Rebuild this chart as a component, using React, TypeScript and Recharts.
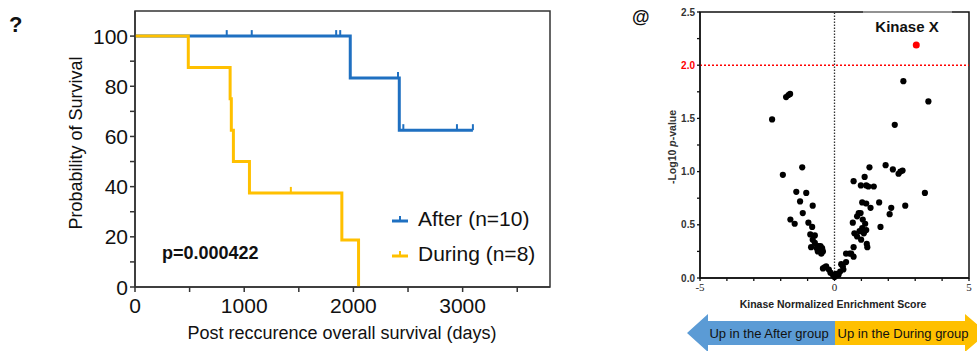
import {
  ComposedChart,
  ScatterChart,
  Line,
  Scatter,
  XAxis,
  YAxis,
  ReferenceLine,
  ReferenceArea,
  Legend,
} from "recharts";

const SANS = "'Liberation Sans', Arial, sans-serif";
const SERIF = "'Liberation Serif', 'Times New Roman', serif";

const afterColor = "#1f70c1";
const duringColor = "#ffc000";

// Kaplan-Meier steps (days, % surviving)
const afterSteps = [
  { days: 0, survival: 100 },
  { days: 1971, survival: 83.3 },
  { days: 2420, survival: 62.5 },
  { days: 3094, survival: 62.5 },
];
const duringSteps = [
  { days: 0, survival: 100 },
  { days: 488, survival: 87.5 },
  { days: 871, survival: 75 },
  { days: 882, survival: 62.5 },
  { days: 901, survival: 50 },
  { days: 1048, survival: 37.5 },
  { days: 1894, survival: 18.75 },
  { days: 2047, survival: 0 },
];
const afterCensored = [
  { days: 840, survival: 100 },
  { days: 1069, survival: 100 },
  { days: 1842, survival: 100 },
  { days: 1879, survival: 100 },
  { days: 2408, survival: 83.3 },
  { days: 2457, survival: 62.5 },
  { days: 2948, survival: 62.5 },
  { days: 3094, survival: 62.5 },
];
const duringCensored = [{ days: 1427, survival: 37.5 }];

const dayDomain: [number, number] = [0, 3800];
const survivalDomain: [number, number] = [0, 110];
const dayTicks = [0, 500, 1000, 1500, 2000, 2500, 3000, 3500];
const dayLabels = [0, 1000, 2000, 3000];
const survivalTicks = [0, 10, 20, 30, 40, 50, 60, 70, 80, 90, 100];
const survivalLabels = [0, 20, 40, 60, 80, 100];

const legendItems = [
  { name: "After (n=10)", color: afterColor },
  { name: "During (n=8)", color: duringColor },
];

// volcano: [normalized enrichment score, -log10 p]
const kinasePoints: [number, number][] = [
  [-2.32, 1.49], [-1.8, 1.7], [-1.71, 1.72], [-1.65, 1.73],
  [-1.92, 0.97], [-1.2, 1.04], [-1.42, 0.81], [-1.05, 0.8],
  [-1.28, 0.72], [-0.81, 0.68], [-1.18, 0.61], [-1.64, 0.55],
  [-1.48, 0.51], [-0.97, 0.52], [-0.83, 0.48], [-0.9, 0.41],
  [-0.73, 0.4], [-0.81, 0.36], [-0.73, 0.33], [-0.87, 0.29],
  [-0.66, 0.28], [-0.56, 0.26], [-0.46, 0.28], [-0.49, 0.23],
  [-0.62, 0.25], [-0.43, 0.25], [-0.6, 0.3], [-0.52, 0.3],
  [-0.43, 0.09], [-0.31, 0.11], [-0.21, 0.08], [-0.37, 0.1],
  [-0.15, 0.05], [-0.06, 0.03], [0, 0.01], [0.05, 0.02],
  [2.56, 1.85], [3.49, 1.66], [2.24, 1.44], [1.9, 1.06],
  [1.3, 1.04], [2.17, 1.02], [2.38, 0.98], [2.45, 1.0],
  [2.53, 1.01], [0.71, 0.91], [1.12, 0.95], [0.98, 0.87],
  [1.18, 0.87], [1.26, 0.86], [1.46, 0.86], [3.36, 0.8],
  [1.03, 0.71], [1.18, 0.7], [1.34, 0.66], [1.66, 0.71],
  [2.11, 0.66], [2.05, 0.6], [2.63, 0.68], [1.71, 0.48],
  [0.9, 0.61], [0.97, 0.61], [0.84, 0.58], [0.68, 0.52],
  [1.05, 0.55], [1.14, 0.51], [1.03, 0.47], [1.18, 0.45],
  [1.09, 0.42], [0.93, 0.44], [0.74, 0.42], [0.84, 0.39],
  [0.99, 0.36], [1.2, 0.32], [1.22, 0.29], [0.71, 0.29],
  [0.62, 0.23], [0.43, 0.23], [0.71, 0.2], [0.56, 0.23],
  [0.43, 0.15], [0.31, 0.11], [0.25, 0.13], [0.33, 0.08],
  [0.21, 0.06], [0.06, 0.04], [0.15, 0.03],
];
const highlightPoints: [number, number][] = [[3.04, 2.19]];
const scoreDomain: [number, number] = [-5, 5];
const logPDomain: [number, number] = [0, 2.5];
const scoreTicks = [-5, -4, -3, -2, -1, 0, 1, 2, 3, 4, 5];
const scoreLabels = [-5, 0, 5];
const logPTicks = [0, 0.25, 0.5, 0.75, 1, 1.25, 1.5, 1.75, 2, 2.25, 2.5];
const logPThreshold = 2;

const kinaseData = kinasePoints.map(([score, logP]) => ({ score, logP }));
const highlightData = highlightPoints.map(([score, logP]) => ({ score, logP }));

function censorShape(color: string) {
  return (props: any) => (
    <line
      x1={props.cx}
      x2={props.cx}
      y1={props.cy}
      y2={props.cy - 6}
      stroke={color}
      strokeWidth={2}
    />
  );
}

function dotShape(color: string, r: number) {
  return (props: any) => <circle cx={props.cx} cy={props.cy} r={r} fill={color} />;
}

const DayTick = (props: any) => {
  const { x, y, payload } = props;
  if (!dayLabels.includes(payload.value)) return null;
  return (
    <text x={x} y={y + 19} textAnchor="middle" fontSize={21} fontFamily={SANS} fill="#111">
      {payload.value}
    </text>
  );
};

const SurvivalTick = (props: any) => {
  const { x, y, payload } = props;
  if (!survivalLabels.includes(payload.value)) return null;
  return (
    <text x={x} y={y + 7.5} textAnchor="end" fontSize={21} fontFamily={SANS} fill="#111">
      {payload.value}
    </text>
  );
};

const ScoreTick = (props: any) => {
  const { x, y, payload } = props;
  if (!scoreLabels.includes(payload.value)) return null;
  return (
    <text x={x} y={y + 8} textAnchor="middle" fontSize={11} fontFamily={SERIF} fill="#222">
      {payload.value}
    </text>
  );
};

const LogPTick = (props: any) => {
  const { x, y, payload } = props;
  const v = payload.value as number;
  if (Math.abs(v * 2 - Math.round(v * 2)) > 1e-6) return null;
  return (
    <text
      x={x}
      y={y + 3.5}
      textAnchor="end"
      fontSize={10}
      fontWeight="bold"
      fontFamily={SANS}
      fill={v === logPThreshold ? "#ff0000" : "#333"}
    >
      {v.toFixed(1)}
    </text>
  );
};

const SurvivalLegend = () => (
  <div style={{ fontFamily: SANS, fontSize: 21, color: "#111" }}>
    {legendItems.map((item) => (
      <div key={item.name} style={{ display: "flex", alignItems: "center", height: 35 }}>
        <svg width={17} height={12}>
          <line x1={0} y1={8} x2={16} y2={8} stroke={item.color} strokeWidth={3} />
          <line x1={8} y1={8} x2={8} y2={3} stroke={item.color} strokeWidth={2} />
        </svg>
        <span style={{ marginLeft: 9 }}>{item.name}</span>
      </div>
    ))}
  </div>
);

function SurvivalChart() {
  return (
    <ComposedChart
      width={560}
      height={351}
      margin={{ top: 11, right: 10, bottom: 0, left: 0 }}
    >
      <XAxis
        dataKey="days"
        type="number"
        domain={dayDomain}
        ticks={dayTicks}
        tick={<DayTick />}
        tickSize={5}
        tickMargin={2}
        height={64}
        stroke="#333"
        strokeWidth={1.5}
        allowDataOverflow
      />
      <YAxis
        dataKey="survival"
        type="number"
        domain={survivalDomain}
        ticks={survivalTicks}
        tick={<SurvivalTick />}
        tickSize={5}
        tickMargin={2}
        width={135}
        stroke="#333"
        strokeWidth={1.5}
        allowDataOverflow
      />
      <ReferenceArea
        x1={dayDomain[0]}
        x2={dayDomain[1]}
        y1={survivalDomain[0]}
        y2={survivalDomain[1]}
        fill="none"
        stroke="#333"
        strokeWidth={1.5}
      />
      <Line
        data={afterSteps}
        dataKey="survival"
        type="stepAfter"
        stroke={afterColor}
        strokeWidth={3}
        dot={false}
        activeDot={false}
        isAnimationActive={false}
      />
      <Line
        data={duringSteps}
        dataKey="survival"
        type="stepAfter"
        stroke={duringColor}
        strokeWidth={3}
        dot={false}
        activeDot={false}
        isAnimationActive={false}
      />
      <Scatter
        data={afterCensored}
        dataKey="survival"
        shape={censorShape(afterColor)}
        isAnimationActive={false}
      />
      <Scatter
        data={duringCensored}
        dataKey="survival"
        shape={censorShape(duringColor)}
        isAnimationActive={false}
      />
      <Legend
        content={<SurvivalLegend />}
        layout="vertical"
        align="center"
        verticalAlign="middle"
        wrapperStyle={{ position: "absolute", left: 392, top: 201, width: 170 }}
      />
    </ComposedChart>
  );
}

function VolcanoChart() {
  return (
    <ScatterChart
      width={337}
      height={300}
      margin={{ top: 12, right: 8, bottom: 0, left: 0 }}
    >
      <XAxis
        dataKey="score"
        type="number"
        domain={scoreDomain}
        ticks={scoreTicks}
        tick={<ScoreTick />}
        tickSize={3}
        tickMargin={2}
        height={22}
        stroke="#111"
        strokeWidth={1.3}
      />
      <YAxis
        dataKey="logP"
        type="number"
        domain={logPDomain}
        ticks={logPTicks}
        tick={<LogPTick />}
        tickSize={3}
        tickMargin={2}
        width={60}
        stroke="#111"
        strokeWidth={1.3}
      />
      <ReferenceArea
        x1={scoreDomain[0]}
        x2={scoreDomain[1]}
        y1={logPDomain[0]}
        y2={logPDomain[1]}
        fill="none"
        stroke="#111"
        strokeWidth={1.5}
      />
      <ReferenceLine x={0} stroke="#333" strokeWidth={1.3} strokeDasharray="1.5 1.5" />
      <ReferenceLine
        y={logPThreshold}
        stroke="#ff0000"
        strokeWidth={1.5}
        strokeDasharray="2 2"
      />
      <Scatter data={kinaseData} shape={dotShape("#000", 3.1)} isAnimationActive={false} />
      <Scatter
        data={highlightData}
        shape={dotShape("#ff0000", 3.5)}
        isAnimationActive={false}
      />
    </ScatterChart>
  );
}

export default function App() {
  return (
    <div
      style={{
        position: "absolute",
        left: 0,
        top: 0,
        width: 977,
        height: 351,
        background: "#fff",
        overflow: "hidden",
        fontFamily: SANS,
      }}
    >
      <div style={{ position: "absolute", left: 0, top: 0 }}>
        <SurvivalChart />
      </div>
      <div style={{ position: "absolute", left: 640, top: 0 }}>
        <VolcanoChart />
      </div>
      <svg
        width={977}
        height={351}
        style={{ position: "absolute", left: 0, top: 0, pointerEvents: "none" }}
      >
        <text x={9} y={32} fontSize={22} fontWeight="bold" fontFamily={SANS} fill="#111">
          ?
        </text>
        <text
          x={76}
          y={143}
          fontSize={18}
          fontFamily={SANS}
          fill="#111"
          textAnchor="middle"
          dominantBaseline="central"
          transform="rotate(-90, 76, 143)"
        >
          Probability of Survival
        </text>
        <text
          x={342}
          y={333}
          fontSize={18}
          fontFamily={SANS}
          fill="#111"
          textAnchor="middle"
          dominantBaseline="central"
        >
          Post reccurence overall survival (days)
        </text>
        <text
          x={162}
          y={253}
          fontSize={18}
          fontWeight="bold"
          fontFamily={SANS}
          fill="#111"
          dominantBaseline="central"
        >
          p=0.000422
        </text>

        <text x={632} y={23} fontSize={18} fontWeight="bold" fontFamily={SANS} fill="#111">
          @
        </text>
        <line x1={863} y1={12} x2={952} y2={12} stroke="#aaa" strokeWidth={1.6} />
        <text
          x={907}
          y={26}
          fontSize={15}
          fontWeight="bold"
          fontFamily={SANS}
          fill="#111"
          textAnchor="middle"
          dominantBaseline="central"
        >
          Kinase X
        </text>
        <text
          x={672}
          y={147}
          fontSize={10.5}
          fontWeight="bold"
          fontFamily={SANS}
          fill="#333"
          textAnchor="middle"
          dominantBaseline="central"
          transform="rotate(-90, 672, 147)"
        >
          -Log10 <tspan fontStyle="italic">p</tspan>-value
        </text>
        <text
          x={833}
          y={304}
          fontSize={10.5}
          fontWeight="bold"
          fontFamily={SANS}
          fill="#222"
          textAnchor="middle"
          dominantBaseline="central"
        >
          Kinase Normalized Enrichment Score
        </text>

        <polygon
          points="687,333 708,314 708,321 835,321 835,345 708,345 708,352"
          fill="#5b9bd5"
        />
        <polygon
          points="835,321 965,321 965,314 987,333 965,352 965,345 835,345"
          fill="#ffc000"
        />
        <text
          x={769}
          y={333}
          fontSize={13}
          fontFamily={SANS}
          fill="#111"
          textAnchor="middle"
          dominantBaseline="central"
        >
          Up in the After group
        </text>
        <text
          x={903}
          y={333}
          fontSize={13}
          fontFamily={SANS}
          fill="#111"
          textAnchor="middle"
          dominantBaseline="central"
        >
          Up in the During group
        </text>
      </svg>
    </div>
  );
}
